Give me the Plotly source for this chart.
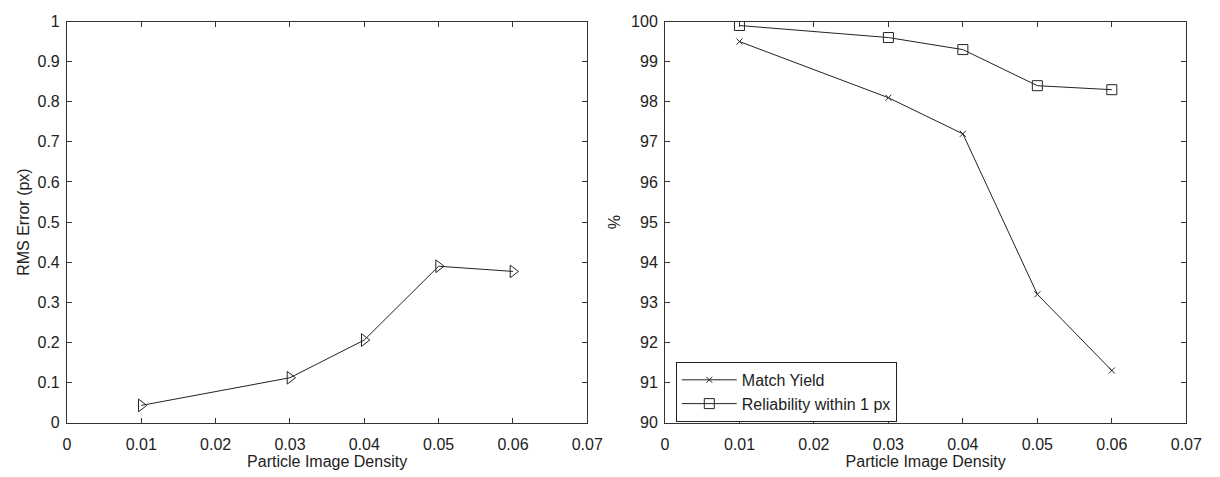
import plotly.graph_objects as go

density = [0.01, 0.03, 0.04, 0.05, 0.06]
rms_error = [0.043, 0.112, 0.206, 0.390, 0.377]
match_yield = [99.5, 98.1, 97.2, 93.2, 91.3]
reliability = [99.9, 99.6, 99.3, 98.4, 98.3]

x_ticks = [0, 0.01, 0.02, 0.03, 0.04, 0.05, 0.06, 0.07]
x_tick_text = ["0", "0.01", "0.02", "0.03", "0.04", "0.05", "0.06", "0.07"]
y1_ticks = [0, 0.1, 0.2, 0.3, 0.4, 0.5, 0.6, 0.7, 0.8, 0.9, 1]
y1_tick_text = ["0", "0.1", "0.2", "0.3", "0.4", "0.5", "0.6", "0.7", "0.8", "0.9", "1"]
y2_ticks = list(range(90, 101))

W, H = 1220, 477
FAM = "Liberation Sans, Arial, sans-serif"
font = dict(family=FAM, size=16, color="#222")
axcol = "#333"

fig = go.Figure()
fig.add_trace(go.Scatter(x=density, y=rms_error, mode="lines+markers",
                         line=dict(color="#222", width=1),
                         marker=dict(symbol="triangle-right-open", size=11, color="#222",
                                     line=dict(width=1)),
                         showlegend=False, xaxis="x", yaxis="y"))
fig.add_trace(go.Scatter(x=density, y=match_yield, mode="lines+markers", name="Match Yield",
                         line=dict(color="#222", width=1),
                         marker=dict(symbol="x-thin-open", size=6, color="#222",
                                     line=dict(width=1, color="#222")),
                         xaxis="x2", yaxis="y2"))
fig.add_trace(go.Scatter(x=density, y=reliability, mode="lines+markers", name="Reliability within 1 px",
                         line=dict(color="#222", width=1),
                         marker=dict(symbol="square-open", size=10, color="#222",
                                     line=dict(width=1)),
                         xaxis="x2", yaxis="y2"))

ydom = [(H - 430) / H, (H - 14) / H]
common = dict(showline=True, linecolor=axcol, linewidth=1, mirror="ticks", ticks="inside",
              ticklen=5, tickcolor=axcol, showgrid=False, zeroline=False,
              tickfont=font)

fig.update_layout(
    width=W, height=H, margin=dict(l=0, r=0, t=0, b=0),
    paper_bgcolor="white", plot_bgcolor="white", font=font,
    xaxis=dict(domain=[64 / W, 593 / W], range=[0, 0.07], tickvals=x_ticks, ticktext=x_tick_text,
               ticklabelstandoff=7,
               title=dict(text="Particle Image Density", font=font, standoff=2), anchor="y", **common),
    yaxis=dict(domain=ydom, range=[0, 1], tickvals=y1_ticks, ticktext=y1_tick_text,
               ticklabelstandoff=3,
               title=dict(text="RMS Error (px)", font=font, standoff=3), anchor="x", **common),
    xaxis2=dict(domain=[672 / W, 1202 / W], range=[0, 0.07], tickvals=x_ticks, ticktext=x_tick_text,
                ticklabelstandoff=7,
                title=dict(text="Particle Image Density", font=font, standoff=2), anchor="y2", **common),
    yaxis2=dict(domain=ydom, range=[90, 100], tickvals=y2_ticks,
                ticklabelstandoff=3,
                title=dict(text="%", font=font, standoff=6), anchor="x2", **common),
    legend=dict(x=683 / W, y=(H - 367) / H, xanchor="left", yanchor="top",
                bgcolor="white", bordercolor="#222", borderwidth=1,
                font=dict(family=FAM, size=16, color="#222"),
                tracegroupgap=0, itemwidth=55),
)

fig.write_html("out.html")
